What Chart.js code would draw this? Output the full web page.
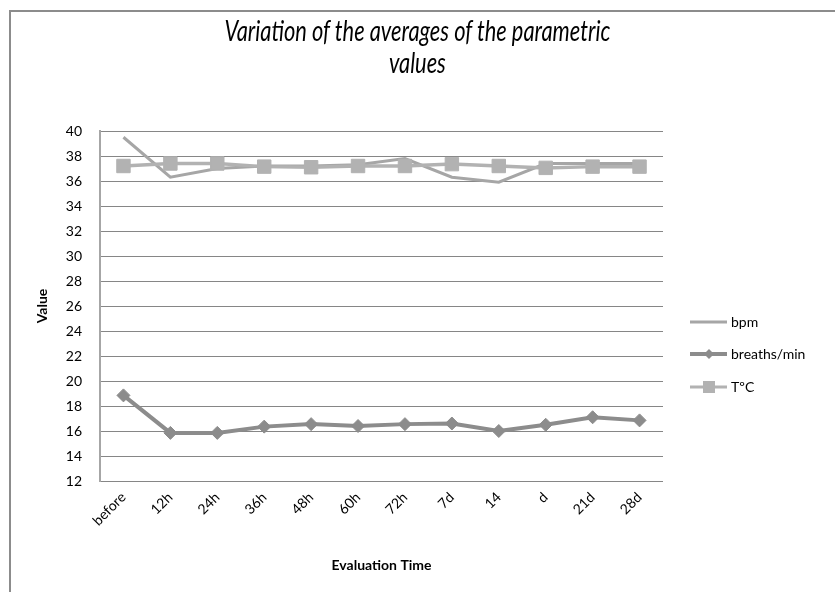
<!DOCTYPE html>
<html>
<head>
<meta charset="utf-8">
<script src="https://cdn.jsdelivr.net/npm/chart.js@4.4.1/dist/chart.umd.min.js"></script>
<style>
  html, body { margin: 0; padding: 0; background: #fff; }
  #wrap { position: relative; width: 835px; height: 592px; overflow: hidden; }
  #frame { position: absolute; left: 9px; top: 10px; width: 900px; height: 700px; border-left: 2px solid #8c8c8c; border-top: 2px solid #8c8c8c; box-sizing: border-box; }
  #title { position: absolute; left: 0; width: 835px; top: 14px; text-align: center; font-family: Lato, "Open Sans", sans-serif; font-style: italic; font-size: 28px; line-height: 32px; color: #000; transform: scaleX(0.78); transform-origin: 417px 0; }
  canvas { position: absolute; left: 0; top: 0; }
</style>
</head>
<body>
<div id="wrap">
  <div id="frame"></div>
  <canvas id="c" width="835" height="592"></canvas>
  <div id="title">Variation of the averages of the parametric<br>values</div>
</div>
<script>
const categories = ["before", "12h", "24h", "36h", "48h", "60h", "72h", "7d", "14", "d", "21d", "28d"];
const bpm = [39.5, 36.3, 37.0, 37.2, 37.2, 37.3, 37.8, 36.3, 35.9, 37.4, 37.4, 37.4];
const breaths = [18.85, 15.85, 15.85, 16.35, 16.55, 16.4, 16.55, 16.6, 16.0, 16.5, 17.1, 16.85];
const temp = [37.2, 37.4, 37.4, 37.15, 37.1, 37.2, 37.2, 37.35, 37.2, 37.05, 37.15, 37.15];
const yTicks = { min: 12, max: 40, step: 2 };
const seriesNames = ["bpm", "breaths/min", "TºC"];

const colBpm = "#a6a6a6", colBr = "#8c8c8c", colT = "#b2b2b2";
const FONT = "Lato, 'Open Sans', sans-serif";

const legendPlugin = {
  id: "customLegend",
  afterDraw(chart) {
    const ctx = chart.ctx;
    const items = [
      { name: seriesNames[0], color: colBpm, w: 3, marker: null, y: 322 },
      { name: seriesNames[1], color: colBr, w: 4, marker: "diamond", y: 354 },
      { name: seriesNames[2], color: colT, w: 3, marker: "square", y: 387 }
    ];
    ctx.save();
    items.forEach(it => {
      ctx.strokeStyle = it.color; ctx.lineWidth = it.w;
      ctx.beginPath(); ctx.moveTo(690, it.y); ctx.lineTo(727, it.y); ctx.stroke();
      ctx.fillStyle = it.color;
      if (it.marker === "diamond") {
        ctx.beginPath(); ctx.moveTo(709, it.y - 5); ctx.lineTo(714, it.y); ctx.lineTo(709, it.y + 5); ctx.lineTo(704, it.y); ctx.closePath(); ctx.fill();
      } else if (it.marker === "square") {
        ctx.fillRect(703, it.y - 6, 12, 12);
      }
      ctx.fillStyle = "#000"; ctx.font = "14px " + FONT; ctx.textBaseline = "middle"; ctx.textAlign = "left";
      ctx.fillText(it.name, 731, it.y);
    });
    ctx.restore();
  }
};

new Chart(document.getElementById("c"), {
  type: "line",
  data: {
    labels: categories,
    datasets: [
      { label: seriesNames[0], data: bpm, borderColor: colBpm, backgroundColor: colBpm, borderWidth: 3, pointRadius: 0, tension: 0, order: 3 },
      { label: seriesNames[1], data: breaths, borderColor: colBr, backgroundColor: colBr, borderWidth: 4, pointStyle: "rectRot", pointRadius: 6.5, pointBorderWidth: 1, tension: 0, order: 1 },
      { label: seriesNames[2], data: temp, borderColor: colT, backgroundColor: colT, borderWidth: 3.5, pointStyle: "rect", pointRadius: 9.5, pointBorderWidth: 1, tension: 0, order: 2 }
    ]
  },
  options: {
    responsive: false,
    animation: false,
    layout: { padding: { left: 0, right: 172, top: 131, bottom: 0 } },
    plugins: { legend: { display: false }, title: { display: false }, tooltip: { enabled: false } },
    scales: {
      x: {
        offset: true,
        grid: { display: false, drawTicks: false },
        border: { display: false },
        ticks: { minRotation: 45, maxRotation: 45, padding: 8, color: "#000", font: { family: FONT, size: 14 }, autoSkip: false },
        title: { display: true, text: "Evaluation Time", color: "#000", font: { family: FONT, size: 14, weight: "bold" }, padding: { top: 0, bottom: 18 } },
        afterFit(s) { s.height = 111; }
      },
      y: {
        min: yTicks.min, max: yTicks.max,
        grid: { color: "#868686", lineWidth: 1, drawTicks: false },
        border: { display: true, color: "#a6a6a6", width: 2 },
        ticks: { stepSize: yTicks.step, padding: 18, color: "#000", font: { family: FONT, size: 14 } },
        title: { display: true, text: "Value", color: "#000", font: { family: FONT, size: 14, weight: "bold" }, padding: { top: 34, bottom: 0 } },
        afterFit(s) { s.width = 100; }
      }
    }
  },
  plugins: [legendPlugin]
});
</script>
</body>
</html>
